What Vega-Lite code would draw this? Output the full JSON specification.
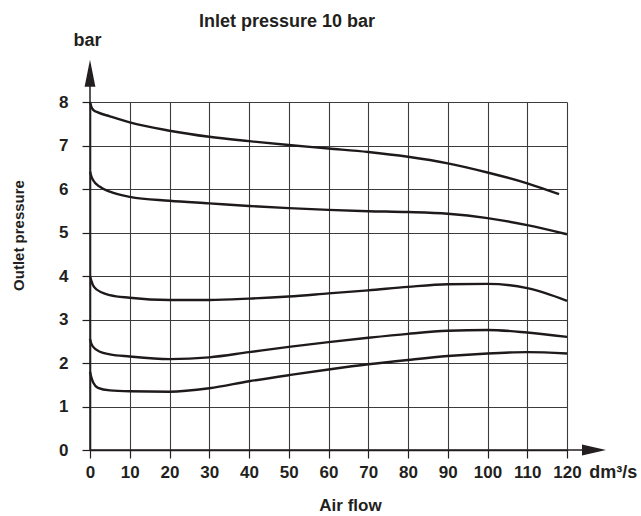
{
  "$schema": "https://vega.github.io/schema/vega-lite/v6.json",
  "width": 477,
  "height": 348,
  "autosize": {"type": "none"},
  "padding": {"left": 90, "top": 102, "right": 74, "bottom": 66},
  "background": "white",
  "config": {
    "view": {"stroke": null},
    "font": "Liberation Sans",
    "text": {"font": "Liberation Sans"}
  },
  "title": {
    "text": "Inlet pressure 10 bar",
    "font": "Liberation Sans",
    "fontSize": 18,
    "fontWeight": "bold",
    "color": "#231f20",
    "anchor": "start",
    "frame": "group",
    "dx": 109,
    "dy": 21,
    "baseline": "alphabetic",
    "offset": 8
  },
  "layer": [
    {
      "data": {
        "values": [
          {"s": "A", "flow": 0, "p": 8.0}, {"s": "A", "flow": 0.3, "p": 7.9}, {"s": "A", "flow": 0.8, "p": 7.82}, {"s": "A", "flow": 2, "p": 7.76}, {"s": "A", "flow": 5, "p": 7.67}, {"s": "A", "flow": 10, "p": 7.53}, {"s": "A", "flow": 20, "p": 7.34}, {"s": "A", "flow": 30, "p": 7.2}, {"s": "A", "flow": 40, "p": 7.1}, {"s": "A", "flow": 50, "p": 7.01}, {"s": "A", "flow": 60, "p": 6.93}, {"s": "A", "flow": 70, "p": 6.85}, {"s": "A", "flow": 80, "p": 6.74}, {"s": "A", "flow": 90, "p": 6.59}, {"s": "A", "flow": 100, "p": 6.38}, {"s": "A", "flow": 110, "p": 6.13}, {"s": "A", "flow": 118, "p": 5.88},
          {"s": "B", "flow": 0, "p": 6.4}, {"s": "B", "flow": 0.3, "p": 6.3}, {"s": "B", "flow": 0.8, "p": 6.2}, {"s": "B", "flow": 2.5, "p": 6.05}, {"s": "B", "flow": 5, "p": 5.94}, {"s": "B", "flow": 10, "p": 5.82}, {"s": "B", "flow": 20, "p": 5.73}, {"s": "B", "flow": 30, "p": 5.67}, {"s": "B", "flow": 40, "p": 5.61}, {"s": "B", "flow": 50, "p": 5.56}, {"s": "B", "flow": 60, "p": 5.52}, {"s": "B", "flow": 70, "p": 5.49}, {"s": "B", "flow": 80, "p": 5.47}, {"s": "B", "flow": 90, "p": 5.43}, {"s": "B", "flow": 100, "p": 5.33}, {"s": "B", "flow": 110, "p": 5.17}, {"s": "B", "flow": 120, "p": 4.96},
          {"s": "C", "flow": 0, "p": 4.0}, {"s": "C", "flow": 0.3, "p": 3.9}, {"s": "C", "flow": 1, "p": 3.75}, {"s": "C", "flow": 3, "p": 3.62}, {"s": "C", "flow": 5, "p": 3.56}, {"s": "C", "flow": 10, "p": 3.5}, {"s": "C", "flow": 20, "p": 3.45}, {"s": "C", "flow": 30, "p": 3.45}, {"s": "C", "flow": 40, "p": 3.48}, {"s": "C", "flow": 50, "p": 3.53}, {"s": "C", "flow": 60, "p": 3.6}, {"s": "C", "flow": 70, "p": 3.67}, {"s": "C", "flow": 80, "p": 3.75}, {"s": "C", "flow": 90, "p": 3.81}, {"s": "C", "flow": 100, "p": 3.82}, {"s": "C", "flow": 110, "p": 3.72}, {"s": "C", "flow": 120, "p": 3.43},
          {"s": "D", "flow": 0, "p": 2.55}, {"s": "D", "flow": 0.3, "p": 2.45}, {"s": "D", "flow": 0.8, "p": 2.37}, {"s": "D", "flow": 2.5, "p": 2.26}, {"s": "D", "flow": 5, "p": 2.2}, {"s": "D", "flow": 10, "p": 2.15}, {"s": "D", "flow": 20, "p": 2.09}, {"s": "D", "flow": 30, "p": 2.13}, {"s": "D", "flow": 40, "p": 2.25}, {"s": "D", "flow": 50, "p": 2.37}, {"s": "D", "flow": 60, "p": 2.48}, {"s": "D", "flow": 70, "p": 2.58}, {"s": "D", "flow": 80, "p": 2.67}, {"s": "D", "flow": 90, "p": 2.74}, {"s": "D", "flow": 100, "p": 2.76}, {"s": "D", "flow": 110, "p": 2.7}, {"s": "D", "flow": 120, "p": 2.6},
          {"s": "E", "flow": 0, "p": 1.8}, {"s": "E", "flow": 0.3, "p": 1.68}, {"s": "E", "flow": 0.8, "p": 1.55}, {"s": "E", "flow": 2, "p": 1.43}, {"s": "E", "flow": 5, "p": 1.37}, {"s": "E", "flow": 10, "p": 1.35}, {"s": "E", "flow": 20, "p": 1.34}, {"s": "E", "flow": 30, "p": 1.42}, {"s": "E", "flow": 40, "p": 1.58}, {"s": "E", "flow": 50, "p": 1.72}, {"s": "E", "flow": 60, "p": 1.85}, {"s": "E", "flow": 70, "p": 1.97}, {"s": "E", "flow": 80, "p": 2.07}, {"s": "E", "flow": 90, "p": 2.16}, {"s": "E", "flow": 100, "p": 2.22}, {"s": "E", "flow": 110, "p": 2.25}, {"s": "E", "flow": 120, "p": 2.22}
        ]
      },
      "mark": {"type": "line", "interpolate": "monotone", "stroke": "#1e1a1b", "strokeWidth": 2.4, "strokeCap": "butt"},
      "encoding": {
        "x": {
          "field": "flow", "type": "quantitative",
          "scale": {"domain": [0, 120], "nice": false, "zero": false},
          "axis": {
            "values": [0, 10, 20, 30, 40, 50, 60, 70, 80, 90, 100, 110, 120],
            "title": "Air flow",
            "titleFont": "Liberation Sans", "titleFontSize": 17, "titleFontWeight": "bold", "titleColor": "#231f20",
            "titleX": 260, "titleY": 55, "titleAlign": "center", "titleBaseline": "middle", "titleAnchor": null,
            "labelFont": "Liberation Sans", "labelFontSize": 17, "labelFontWeight": "bold", "labelColor": "#231f20",
            "labelPadding": 6, "labelFlush": false, "labelOverlap": false,
            "tickSize": 8, "tickColor": "#231f20", "tickWidth": 1.2,
            "domainColor": "#231f20", "domainWidth": 1.5,
            "grid": true, "gridColor": "#3c3c3c", "gridWidth": 1.1, "gridOpacity": 1
          }
        },
        "y": {
          "field": "p", "type": "quantitative",
          "scale": {"domain": [0, 8], "nice": false},
          "axis": {
            "values": [0, 1, 2, 3, 4, 5, 6, 7, 8],
            "title": "Outlet pressure",
            "titleFont": "Liberation Sans", "titleFontSize": 15, "titleFontWeight": "bold", "titleColor": "#231f20",
            "titleX": -72, "titleY": 133, "titleAngle": 270, "titleAlign": "center", "titleBaseline": "middle", "titleAnchor": null,
            "labelFont": "Liberation Sans", "labelFontSize": 17, "labelFontWeight": "bold", "labelColor": "#231f20",
            "labelPadding": 14, "labelFlush": false, "labelOverlap": false,
            "tickSize": 8, "tickColor": "#231f20", "tickWidth": 1.2,
            "domainColor": "#231f20", "domainWidth": 1.5,
            "grid": true, "gridColor": "#3c3c3c", "gridWidth": 1.1, "gridOpacity": 1
          }
        },
        "detail": {"field": "s", "type": "nominal"}
      }
    },
    {
      "data": {"values": [{"ax": "y"}]},
      "mark": {"type": "rule", "stroke": "#231f20", "strokeWidth": 1.5},
      "encoding": {
        "x": {"datum": 0, "type": "quantitative", "scale": {"domain": [0, 120], "nice": false, "zero": false},
          "axis": {"values": [0, 10, 20, 30, 40, 50, 60, 70, 80, 90, 100, 110, 120], "title": "Air flow", "titleFont": "Liberation Sans", "titleFontSize": 17, "titleFontWeight": "bold", "titleColor": "#231f20", "titleX": 260, "titleY": 55, "titleAlign": "center", "titleBaseline": "middle", "titleAnchor": null, "labelFont": "Liberation Sans", "labelFontSize": 17, "labelFontWeight": "bold", "labelColor": "#231f20", "labelPadding": 6, "labelFlush": false, "labelOverlap": false, "tickSize": 8, "tickColor": "#231f20", "tickWidth": 1.2, "domainColor": "#231f20", "domainWidth": 1.5, "grid": true, "gridColor": "#3c3c3c", "gridWidth": 1.1, "gridOpacity": 1}},
        "y": {"datum": 0, "type": "quantitative", "scale": {"domain": [0, 8], "nice": false},
          "axis": {"values": [0, 1, 2, 3, 4, 5, 6, 7, 8], "title": "Outlet pressure", "titleFont": "Liberation Sans", "titleFontSize": 15, "titleFontWeight": "bold", "titleColor": "#231f20", "titleX": -72, "titleY": 133, "titleAngle": 270, "titleAlign": "center", "titleBaseline": "middle", "titleAnchor": null, "labelFont": "Liberation Sans", "labelFontSize": 17, "labelFontWeight": "bold", "labelColor": "#231f20", "labelPadding": 14, "labelFlush": false, "labelOverlap": false, "tickSize": 8, "tickColor": "#231f20", "tickWidth": 1.2, "domainColor": "#231f20", "domainWidth": 1.5, "grid": true, "gridColor": "#3c3c3c", "gridWidth": 1.1, "gridOpacity": 1}},
        "y2": {"datum": 8.45}
      }
    },
    {
      "data": {"values": [{"ax": "x"}]},
      "mark": {"type": "rule", "stroke": "#231f20", "strokeWidth": 1.5},
      "encoding": {
        "x": {"datum": 0, "type": "quantitative", "scale": {"domain": [0, 120], "nice": false, "zero": false},
          "axis": {"values": [0, 10, 20, 30, 40, 50, 60, 70, 80, 90, 100, 110, 120], "title": "Air flow", "titleFont": "Liberation Sans", "titleFontSize": 17, "titleFontWeight": "bold", "titleColor": "#231f20", "titleX": 260, "titleY": 55, "titleAlign": "center", "titleBaseline": "middle", "titleAnchor": null, "labelFont": "Liberation Sans", "labelFontSize": 17, "labelFontWeight": "bold", "labelColor": "#231f20", "labelPadding": 6, "labelFlush": false, "labelOverlap": false, "tickSize": 8, "tickColor": "#231f20", "tickWidth": 1.2, "domainColor": "#231f20", "domainWidth": 1.5, "grid": true, "gridColor": "#3c3c3c", "gridWidth": 1.1, "gridOpacity": 1}},
        "x2": {"datum": 124},
        "y": {"datum": 0, "type": "quantitative", "scale": {"domain": [0, 8], "nice": false},
          "axis": {"values": [0, 1, 2, 3, 4, 5, 6, 7, 8], "title": "Outlet pressure", "titleFont": "Liberation Sans", "titleFontSize": 15, "titleFontWeight": "bold", "titleColor": "#231f20", "titleX": -72, "titleY": 133, "titleAngle": 270, "titleAlign": "center", "titleBaseline": "middle", "titleAnchor": null, "labelFont": "Liberation Sans", "labelFontSize": 17, "labelFontWeight": "bold", "labelColor": "#231f20", "labelPadding": 14, "labelFlush": false, "labelOverlap": false, "tickSize": 8, "tickColor": "#231f20", "tickWidth": 1.2, "domainColor": "#231f20", "domainWidth": 1.5, "grid": true, "gridColor": "#3c3c3c", "gridWidth": 1.1, "gridOpacity": 1}}
      }
    },
    {
      "data": {"values": [{"arrow": "y"}]},
      "mark": {"type": "point", "shape": "M0,-1L0.4,1L-0.4,1Z", "filled": true, "fill": "#231f20", "stroke": null, "size": 729, "opacity": 1},
      "encoding": {
        "x": {"datum": 0, "type": "quantitative", "scale": {"domain": [0, 120], "nice": false, "zero": false},
          "axis": {"values": [0, 10, 20, 30, 40, 50, 60, 70, 80, 90, 100, 110, 120], "title": "Air flow", "titleFont": "Liberation Sans", "titleFontSize": 17, "titleFontWeight": "bold", "titleColor": "#231f20", "titleX": 260, "titleY": 55, "titleAlign": "center", "titleBaseline": "middle", "titleAnchor": null, "labelFont": "Liberation Sans", "labelFontSize": 17, "labelFontWeight": "bold", "labelColor": "#231f20", "labelPadding": 6, "labelFlush": false, "labelOverlap": false, "tickSize": 8, "tickColor": "#231f20", "tickWidth": 1.2, "domainColor": "#231f20", "domainWidth": 1.5, "grid": true, "gridColor": "#3c3c3c", "gridWidth": 1.1, "gridOpacity": 1}},
        "y": {"datum": 8.66, "type": "quantitative", "scale": {"domain": [0, 8], "nice": false},
          "axis": {"values": [0, 1, 2, 3, 4, 5, 6, 7, 8], "title": "Outlet pressure", "titleFont": "Liberation Sans", "titleFontSize": 15, "titleFontWeight": "bold", "titleColor": "#231f20", "titleX": -72, "titleY": 133, "titleAngle": 270, "titleAlign": "center", "titleBaseline": "middle", "titleAnchor": null, "labelFont": "Liberation Sans", "labelFontSize": 17, "labelFontWeight": "bold", "labelColor": "#231f20", "labelPadding": 14, "labelFlush": false, "labelOverlap": false, "tickSize": 8, "tickColor": "#231f20", "tickWidth": 1.2, "domainColor": "#231f20", "domainWidth": 1.5, "grid": true, "gridColor": "#3c3c3c", "gridWidth": 1.1, "gridOpacity": 1}}
      }
    },
    {
      "data": {"values": [{"arrow": "x"}]},
      "mark": {"type": "point", "shape": "M1,0L-1,0.45L-1,-0.45Z", "filled": true, "fill": "#231f20", "stroke": null, "size": 576, "opacity": 1},
      "encoding": {
        "x": {"datum": 126.8, "type": "quantitative", "scale": {"domain": [0, 120], "nice": false, "zero": false},
          "axis": {"values": [0, 10, 20, 30, 40, 50, 60, 70, 80, 90, 100, 110, 120], "title": "Air flow", "titleFont": "Liberation Sans", "titleFontSize": 17, "titleFontWeight": "bold", "titleColor": "#231f20", "titleX": 260, "titleY": 55, "titleAlign": "center", "titleBaseline": "middle", "titleAnchor": null, "labelFont": "Liberation Sans", "labelFontSize": 17, "labelFontWeight": "bold", "labelColor": "#231f20", "labelPadding": 6, "labelFlush": false, "labelOverlap": false, "tickSize": 8, "tickColor": "#231f20", "tickWidth": 1.2, "domainColor": "#231f20", "domainWidth": 1.5, "grid": true, "gridColor": "#3c3c3c", "gridWidth": 1.1, "gridOpacity": 1}},
        "y": {"datum": 0, "type": "quantitative", "scale": {"domain": [0, 8], "nice": false},
          "axis": {"values": [0, 1, 2, 3, 4, 5, 6, 7, 8], "title": "Outlet pressure", "titleFont": "Liberation Sans", "titleFontSize": 15, "titleFontWeight": "bold", "titleColor": "#231f20", "titleX": -72, "titleY": 133, "titleAngle": 270, "titleAlign": "center", "titleBaseline": "middle", "titleAnchor": null, "labelFont": "Liberation Sans", "labelFontSize": 17, "labelFontWeight": "bold", "labelColor": "#231f20", "labelPadding": 14, "labelFlush": false, "labelOverlap": false, "tickSize": 8, "tickColor": "#231f20", "tickWidth": 1.2, "domainColor": "#231f20", "domainWidth": 1.5, "grid": true, "gridColor": "#3c3c3c", "gridWidth": 1.1, "gridOpacity": 1}}
      }
    },
    {
      "data": {"values": [{"label": "bar"}]},
      "mark": {"type": "text", "font": "Liberation Sans", "fontSize": 18, "fontWeight": "bold", "fill": "#231f20", "align": "center", "baseline": "alphabetic"},
      "encoding": {
        "text": {"field": "label"},
        "x": {"datum": -0.6, "type": "quantitative", "scale": {"domain": [0, 120], "nice": false, "zero": false},
          "axis": {"values": [0, 10, 20, 30, 40, 50, 60, 70, 80, 90, 100, 110, 120], "title": "Air flow", "titleFont": "Liberation Sans", "titleFontSize": 17, "titleFontWeight": "bold", "titleColor": "#231f20", "titleX": 260, "titleY": 55, "titleAlign": "center", "titleBaseline": "middle", "titleAnchor": null, "labelFont": "Liberation Sans", "labelFontSize": 17, "labelFontWeight": "bold", "labelColor": "#231f20", "labelPadding": 6, "labelFlush": false, "labelOverlap": false, "tickSize": 8, "tickColor": "#231f20", "tickWidth": 1.2, "domainColor": "#231f20", "domainWidth": 1.5, "grid": true, "gridColor": "#3c3c3c", "gridWidth": 1.1, "gridOpacity": 1}},
        "y": {"datum": 9.29, "type": "quantitative", "scale": {"domain": [0, 8], "nice": false},
          "axis": {"values": [0, 1, 2, 3, 4, 5, 6, 7, 8], "title": "Outlet pressure", "titleFont": "Liberation Sans", "titleFontSize": 15, "titleFontWeight": "bold", "titleColor": "#231f20", "titleX": -72, "titleY": 133, "titleAngle": 270, "titleAlign": "center", "titleBaseline": "middle", "titleAnchor": null, "labelFont": "Liberation Sans", "labelFontSize": 17, "labelFontWeight": "bold", "labelColor": "#231f20", "labelPadding": 14, "labelFlush": false, "labelOverlap": false, "tickSize": 8, "tickColor": "#231f20", "tickWidth": 1.2, "domainColor": "#231f20", "domainWidth": 1.5, "grid": true, "gridColor": "#3c3c3c", "gridWidth": 1.1, "gridOpacity": 1}}
      }
    },
    {
      "data": {"values": [{"label": "dm³/s"}]},
      "mark": {"type": "text", "font": "Liberation Sans", "fontSize": 18, "fontWeight": "bold", "fill": "#231f20", "align": "left", "baseline": "middle"},
      "encoding": {
        "text": {"field": "label"},
        "x": {"datum": 125.6, "type": "quantitative", "scale": {"domain": [0, 120], "nice": false, "zero": false},
          "axis": {"values": [0, 10, 20, 30, 40, 50, 60, 70, 80, 90, 100, 110, 120], "title": "Air flow", "titleFont": "Liberation Sans", "titleFontSize": 17, "titleFontWeight": "bold", "titleColor": "#231f20", "titleX": 260, "titleY": 55, "titleAlign": "center", "titleBaseline": "middle", "titleAnchor": null, "labelFont": "Liberation Sans", "labelFontSize": 17, "labelFontWeight": "bold", "labelColor": "#231f20", "labelPadding": 6, "labelFlush": false, "labelOverlap": false, "tickSize": 8, "tickColor": "#231f20", "tickWidth": 1.2, "domainColor": "#231f20", "domainWidth": 1.5, "grid": true, "gridColor": "#3c3c3c", "gridWidth": 1.1, "gridOpacity": 1}},
        "y": {"datum": -0.53, "type": "quantitative", "scale": {"domain": [0, 8], "nice": false},
          "axis": {"values": [0, 1, 2, 3, 4, 5, 6, 7, 8], "title": "Outlet pressure", "titleFont": "Liberation Sans", "titleFontSize": 15, "titleFontWeight": "bold", "titleColor": "#231f20", "titleX": -72, "titleY": 133, "titleAngle": 270, "titleAlign": "center", "titleBaseline": "middle", "titleAnchor": null, "labelFont": "Liberation Sans", "labelFontSize": 17, "labelFontWeight": "bold", "labelColor": "#231f20", "labelPadding": 14, "labelFlush": false, "labelOverlap": false, "tickSize": 8, "tickColor": "#231f20", "tickWidth": 1.2, "domainColor": "#231f20", "domainWidth": 1.5, "grid": true, "gridColor": "#3c3c3c", "gridWidth": 1.1, "gridOpacity": 1}}
      }
    }
  ]
}
